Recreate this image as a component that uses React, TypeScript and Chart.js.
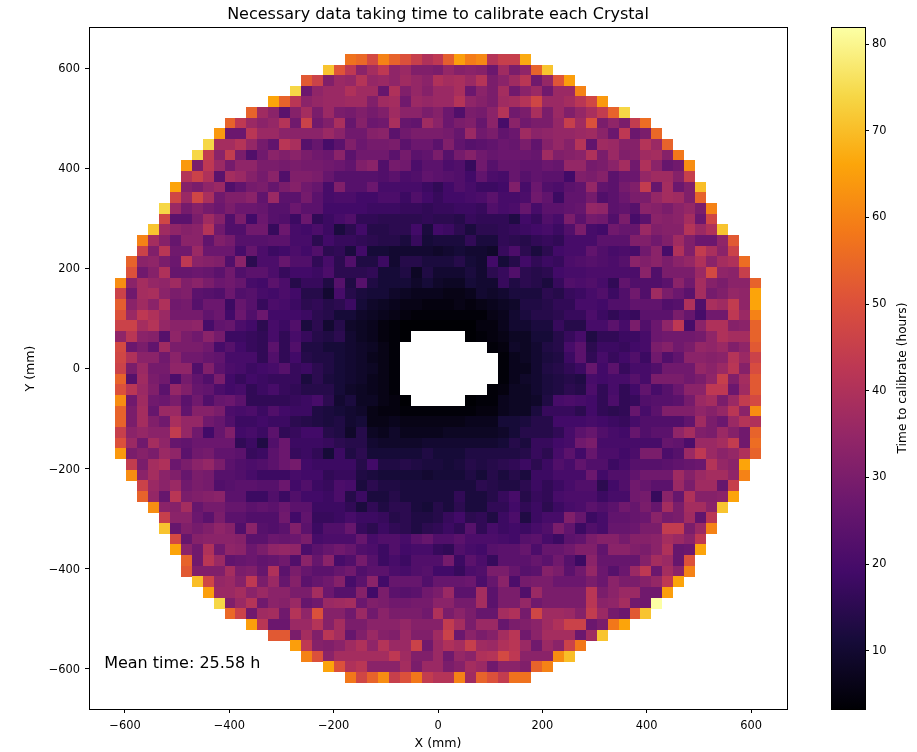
import React, { useEffect, useRef } from "react";
import { Chart, registerables } from "chart.js";

Chart.register(...registerables);

const _ = null;
const FONT = "'DejaVu Sans', sans-serif";
const TEXT = "#000000";

const titleText = "Necessary data taking time to calibrate each Crystal";
const meanText = "Mean time: 25.58 h";
const xLabel = "X (mm)";
const yLabel = "Y (mm)";
const barLabel = "Time to calibrate (hours)";

const COLOR_MIN = 3.3;
const COLOR_MAX = 81.85;
const PITCH_X_MM = 20.98;
const PITCH_Y_MM = 21.29;
const CENTER_INDEX = 29;

const positionTicks = [-600, -400, -200, 0, 200, 400, 600];
const barTicks = [10, 20, 30, 40, 50, 60, 70, 80];

const inferno = ["#000004", "#160b39", "#420a68", "#6a176e", "#932667", "#bc3754", "#dd513a", "#f37819", "#fca50a", "#f6d746", "#fcffa4"];

// First occupied column of every row, top row first.
const rowStart = [21, 19, 17, 16, 14, 12, 10, 9, 8, 7, 6, 6, 5, 5, 4, 4, 3, 2, 2, 1, 1, 0, 0, 0, 0, 0, 0, 0, 0, 0, 0, 0, 0, 0, 0, 0, 0, 0, 1, 1, 2, 2, 3, 4, 4, 5, 5, 6, 6, 7, 8, 9, 10, 12, 14, 16, 17, 19, 21];

// Hours per crystal, row by row from the top; null is the beam hole.
const r00 = [57,55,48,60,54,50,45,40,43,53,65,59,61,41,45,45,67];
const r01 = [71,51,43,33,38,43,34,36,31,31,30,35,32,33,32,27,37,30,34,54,71];
const r02 = [52,46,31,36,35,41,35,36,34,37,35,33,40,38,39,36,41,30,33,37,42,28,35,51,65];
const r03 = [74,27,34,36,36,40,37,37,26,40,31,35,32,36,36,39,27,33,30,38,28,33,36,28,36,36,60];
const r04 = [66,54,42,33,35,36,36,37,37,31,37,38,28,36,35,36,36,41,34,32,30,37,38,41,47,36,36,38,42,47,64];
const r05 = [54,37,33,24,32,38,30,36,30,29,31,29,31,37,33,33,30,32,27,22,30,29,33,41,28,30,39,30,36,31,35,39,44,54,74];
const r06 = [54,43,36,33,35,41,28,46,28,31,39,26,32,27,28,39,26,25,37,33,27,30,31,26,33,20,33,28,30,30,35,45,37,50,30,34,30,44,56];
const r07 = [64,27,27,42,36,36,33,33,33,33,36,33,28,28,32,33,24,28,30,30,30,29,26,36,28,30,25,27,37,33,34,35,35,36,37,33,27,43,27,30,55];
const r08 = [74,38,38,41,35,29,25,42,39,23,26,20,24,31,27,29,29,30,24,27,27,24,31,25,23,24,25,27,26,30,25,32,35,32,41,25,37,36,32,32,41,36,54];
const r09 = [74,44,33,44,30,22,28,33,31,33,30,28,27,33,24,28,28,28,24,29,24,25,30,23,29,32,28,26,27,27,27,26,37,31,32,33,40,30,36,31,32,37,38,32,58];
const r10 = [64,30,43,36,29,34,34,30,30,29,30,29,29,28,27,25,31,33,22,29,28,21,24,24,21,22,17,28,23,26,26,25,25,27,26,35,35,29,30,33,38,28,40,33,26,28,62];
const r11 = [41,46,40,24,38,36,32,29,33,22,31,31,30,26,23,23,23,23,22,24,21,22,25,24,23,22,19,25,21,20,26,23,25,24,24,19,31,30,32,24,27,27,35,37,37,32,45];
const r12 = [66,32,30,34,36,22,25,29,30,26,30,32,28,26,20,31,23,23,27,20,20,20,20,18,16,19,22,20,18,18,19,31,20,27,22,21,24,25,35,25,24,29,31,44,26,38,27,31,70];
const r13 = [47,36,47,39,28,31,31,33,25,36,24,24,29,24,20,21,21,19,19,21,21,18,22,19,17,19,19,20,21,24,20,20,21,28,25,18,25,25,29,22,24,27,30,30,35,38,37,31,54];
const r14 = [74,36,29,32,29,27,30,27,27,26,23,23,27,24,24,19,19,19,19,18,18,18,17,17,16,17,17,18,18,17,22,20,21,26,20,24,24,25,26,35,34,24,25,23,33,32,30,33,35,30,60];
const r15 = [47,24,24,30,37,32,22,30,19,27,23,22,18,27,16,18,20,22,16,16,15,15,15,15,16,15,15,14,17,16,16,16,13,19,17,22,20,30,24,29,28,22,30,20,24,33,32,33,38,27,47];
const r16 = [71,37,34,32,33,41,28,22,22,28,28,17,27,20,19,21,18,12,15,19,14,14,15,15,19,12,19,18,15,12,15,15,16,17,18,19,20,18,22,30,20,19,28,26,26,36,31,32,32,41,36,40,71];
const r17 = [60,38,32,26,33,33,25,31,29,23,23,23,24,24,20,20,15,19,17,17,16,15,14,14,12,17,11,12,12,12,16,12,12,16,15,14,16,17,16,20,20,20,24,24,24,31,31,28,31,37,31,27,27,34,52];
const r18 = [46,31,42,28,28,36,27,27,27,20,26,21,18,19,21,19,22,15,16,12,19,11,11,10,10,10,10,9,10,11,10,10,9,17,21,15,12,15,19,20,20,25,22,20,21,20,28,33,20,40,31,44,39,33,46];
const r19 = [54,33,34,30,27,43,33,32,31,22,33,15,21,21,26,22,22,16,20,15,22,13,13,18,10,14,14,12,12,12,14,11,10,19,11,14,19,16,18,17,21,22,23,22,21,23,33,31,33,30,33,35,40,33,38,40,56];
const r20 = [50,28,32,40,26,26,27,26,24,28,22,24,24,21,17,19,19,18,21,15,15,15,16,11,11,13,8,13,10,10,10,12,10,15,17,22,15,14,15,19,20,20,21,21,21,21,21,33,22,30,30,30,36,48,34,33,45];
const r21 = [62,33,38,35,34,37,31,33,30,27,28,26,20,19,24,21,14,17,17,13,23,13,23,13,11,11,11,9,11,9,8,8,11,10,10,17,13,15,14,12,17,22,21,22,20,16,25,22,22,22,24,33,28,38,32,30,33,33,54];
const r22 = [46,28,38,39,33,30,31,24,23,22,27,22,23,20,19,21,19,14,14,10,20,14,12,11,11,9,8,7,7,7,6,6,7,10,9,10,12,12,12,15,14,17,18,20,22,18,22,28,22,37,30,27,24,38,29,31,35,34,66];
const r23 = [53,33,37,33,40,28,29,23,27,27,18,26,23,17,21,20,18,15,16,14,15,18,11,9,8,7,6,6,5,5,5,6,5,6,7,8,9,13,13,14,16,16,20,20,19,22,22,25,25,25,22,23,40,22,39,37,44,34,66];
const r24 = [50,36,43,40,36,29,29,29,25,27,19,27,22,27,19,19,19,18,15,14,11,11,9,8,7,6,5,4,4,4,4,4,4,4,6,7,10,12,14,14,15,17,17,21,18,16,18,17,24,24,24,30,26,20,28,28,43,36,60];
const r25 = [46,46,38,41,35,33,33,34,20,25,26,21,19,15,20,18,22,12,15,10,14,9,8,7,5,4,3,3,3,3,3,3,3,5,5,7,10,10,12,12,17,14,14,20,20,24,20,30,22,27,34,43,20,33,40,40,32,33,54];
const r26 = [34,42,33,32,23,34,30,28,33,29,18,18,17,16,20,16,20,17,14,13,15,10,8,7,5,4,3,_,_,_,_,_,3,4,5,6,8,8,11,11,14,17,20,13,16,16,18,18,20,27,28,28,28,29,34,40,38,38,54];
const r27 = [48,27,30,25,37,30,30,30,28,20,23,19,17,16,24,16,22,13,13,11,11,10,9,8,6,4,_,_,_,_,_,_,_,_,4,5,9,8,10,13,14,20,24,15,18,18,17,19,20,30,32,28,30,35,34,36,31,34,52];
const r28 = [47,40,33,33,28,33,28,28,26,25,20,20,20,16,22,16,19,14,13,13,11,10,9,7,6,4,_,_,_,_,_,_,_,_,_,4,7,8,10,12,13,18,24,16,20,17,19,22,18,28,22,25,33,33,32,33,41,36,46];
const r29 = [46,30,36,29,29,34,34,22,31,24,21,20,18,19,20,23,17,18,15,13,11,10,9,8,6,4,_,_,_,_,_,_,_,_,_,4,7,7,10,13,14,16,18,26,19,24,17,20,20,22,28,28,28,35,33,36,42,32,49];
const r30 = [54,23,37,30,28,21,29,25,22,30,19,17,19,18,17,17,17,12,15,12,11,10,9,7,6,4,_,_,_,_,_,_,_,_,_,4,7,9,10,12,13,14,13,20,19,20,20,23,20,30,30,30,28,30,34,45,31,38,52];
const r31 = [50,42,36,31,24,35,31,26,25,21,19,20,16,18,20,17,16,14,14,14,11,9,8,7,6,4,_,_,_,_,_,_,_,_,4,5,8,8,10,12,13,15,14,21,16,20,16,19,25,20,23,27,33,33,43,43,27,37,52];
const r32 = [62,28,37,28,27,30,24,28,22,26,27,24,16,16,16,16,17,18,20,15,10,12,8,8,6,5,3,_,_,_,_,_,3,4,4,7,8,8,9,13,20,21,20,19,16,21,16,17,22,23,23,24,29,36,38,30,36,44,48];
const r33 = [54,30,38,26,36,36,25,32,32,30,21,20,21,18,22,19,18,18,13,12,11,10,9,6,5,5,4,4,4,4,4,4,4,5,5,7,8,8,12,17,17,17,15,19,16,15,16,26,20,24,31,31,31,34,32,35,42,33,62];
const r34 = [54,30,38,31,28,39,35,35,28,26,22,18,18,19,18,18,15,14,13,12,13,10,11,6,6,7,6,6,6,6,6,6,7,7,7,11,11,12,14,14,19,19,19,20,19,18,17,20,22,22,22,22,25,37,30,27,36,41,40];
const r35 = [45,33,35,33,33,44,35,28,19,26,31,19,20,18,24,16,17,19,19,14,13,9,14,8,7,9,7,7,7,7,8,8,8,8,8,9,11,14,14,14,16,20,24,26,22,20,19,26,22,24,24,34,38,31,30,36,32,28,54];
const r36 = [50,36,28,38,34,26,25,27,27,27,27,16,18,13,22,27,18,18,18,17,15,14,14,10,9,9,9,9,10,10,10,10,10,10,10,11,14,12,17,17,19,20,28,30,20,20,20,20,20,20,26,25,21,36,36,38,44,28,56];
const r37 = [64,30,32,30,36,34,24,28,29,25,25,24,17,18,24,27,17,18,16,11,18,13,15,11,11,11,11,11,13,11,11,11,13,13,13,13,13,14,17,15,20,24,19,26,21,21,19,21,30,30,21,23,36,43,36,33,35,40,54];
const r38 = [44,30,38,40,27,30,33,35,30,24,22,21,22,24,27,29,19,18,18,18,18,14,19,13,13,14,13,12,12,11,12,14,13,14,15,16,18,15,18,22,20,25,22,22,18,20,23,23,23,24,25,26,27,41,35,33,66];
const r39 = [62,33,38,33,31,26,30,29,23,23,22,20,18,18,18,20,19,19,16,17,17,13,12,11,11,11,11,10,11,11,11,13,11,14,12,14,12,18,18,20,20,20,27,19,22,22,25,28,28,28,37,32,36,38,38,34,60];
const r40 = [46,36,33,36,28,30,29,22,23,24,24,23,23,27,19,22,18,17,21,20,12,15,13,13,12,12,12,12,12,12,12,15,14,13,13,15,18,16,18,20,22,22,15,19,22,28,26,24,24,36,30,37,37,26,45];
const r41 = [54,35,26,42,30,31,32,33,24,24,18,18,22,18,22,19,19,18,21,14,18,12,12,14,12,12,12,12,12,16,12,12,14,17,20,14,17,16,20,21,21,21,18,20,20,28,29,17,33,26,40,32,32,33,66];
const r42 = [62,33,32,38,26,29,29,26,26,24,25,24,27,24,24,18,18,18,16,12,16,13,15,15,12,11,14,12,15,12,12,16,16,19,16,18,15,18,20,21,24,22,24,28,26,30,26,38,30,38,38,33,71];
const r43 = [45,33,33,27,24,30,24,24,22,22,22,28,19,25,17,17,18,20,18,18,17,14,15,13,13,14,17,19,15,16,13,18,21,13,18,20,20,31,26,18,20,25,25,26,27,33,29,30,37,25,42];
const r44 = [71,26,31,29,31,34,32,22,33,23,22,24,31,24,18,22,22,26,17,15,18,16,15,13,15,16,18,16,23,16,20,18,19,18,20,22,30,25,18,22,20,26,26,27,30,30,44,44,30,36,60];
const r45 = [48,26,32,33,33,33,32,24,24,27,26,27,30,20,21,21,21,26,20,22,22,20,24,26,22,22,24,21,21,21,20,19,23,24,20,18,24,25,30,32,32,29,32,32,33,38,36,33,43];
const r46 = [66,33,28,40,28,34,33,27,30,34,35,34,21,24,26,28,26,22,21,18,22,19,20,20,17,16,22,20,19,23,24,24,26,21,26,26,28,31,31,25,33,33,31,30,33,40,26,27,66];
const r47 = [54,28,42,36,25,26,27,25,26,28,22,33,26,33,20,22,29,23,18,20,18,22,22,22,29,18,24,21,17,24,24,24,26,24,28,23,18,33,26,26,26,26,32,38,36,26,50];
const r48 = [52,31,31,31,38,30,31,26,40,24,30,26,24,24,26,28,22,24,24,21,20,22,23,19,19,17,21,22,30,30,26,23,24,32,30,24,28,35,27,23,27,36,43,27,38,33,60];
const r49 = [70,47,35,36,32,43,30,36,26,32,24,26,28,32,20,24,33,19,26,26,26,22,26,26,26,27,21,26,33,21,29,30,30,27,27,27,30,27,33,30,30,32,35,43,66];
const r50 = [65,36,36,38,33,36,33,33,30,30,38,27,23,23,32,19,30,24,23,24,28,30,36,24,24,38,24,30,30,22,36,30,30,30,30,42,30,33,36,36,28,28,65];
const r51 = [74,31,36,41,28,33,32,36,26,28,36,37,38,27,31,30,28,28,29,29,33,33,29,29,38,24,30,30,35,28,30,30,30,30,42,33,34,38,28,28,82];
const r52 = [55,46,28,37,38,28,41,34,50,32,32,28,36,28,33,30,30,30,28,40,30,33,30,26,26,38,40,29,47,37,37,36,32,44,36,29,27,52,71];
const r53 = [65,42,27,27,36,36,41,32,38,30,30,33,33,33,35,32,32,32,44,38,30,36,36,26,30,31,33,37,40,46,46,27,30,58,66];
const r54 = [52,52,30,38,31,42,38,26,31,36,32,31,36,31,31,37,46,27,33,30,32,38,42,28,33,38,38,38,27,37,71];
const r55 = [65,43,32,31,33,37,40,34,41,36,36,46,28,36,40,38,45,37,36,40,42,36,28,36,33,46,58];
const r56 = [60,50,33,38,38,38,38,38,43,37,31,31,36,28,35,33,40,41,48,43,33,33,33,62,70];
const r57 = [66,50,40,42,33,33,33,38,30,36,36,30,32,38,36,28,33,33,31,54,60];
const r58 = [58,47,54,62,45,50,58,44,41,41,60,37,54,50,44,57,57];

const hoursByRow = [r00,r01,r02,r03,r04,r05,r06,r07,r08,r09,r10,r11,r12,r13,r14,r15,r16,r17,r18,r19,r20,r21,r22,r23,r24,r25,r26,r27,r28,r29,r30,r31,r32,r33,r34,r35,r36,r37,r38,r39,r40,r41,r42,r43,r44,r45,r46,r47,r48,r49,r50,r51,r52,r53,r54,r55,r56,r57,r58];

type Cell = { x: number; y: number; v: number };

const cells: Cell[] = [];
hoursByRow.forEach((row: (number | null)[], j: number) => {
  row.forEach((v, k) => {
    if (v === null) return;
    cells.push({
      x: (rowStart[j] + k - CENTER_INDEX) * PITCH_X_MM,
      y: (CENTER_INDEX - j) * PITCH_Y_MM,
      v,
    });
  });
});

function hexToRgb(h: string) {
  return [1, 3, 5].map((i) => parseInt(h.slice(i, i + 2), 16));
}

function infernoColor(v: number) {
  const t = Math.min(1, Math.max(0, (v - COLOR_MIN) / (COLOR_MAX - COLOR_MIN))) * (inferno.length - 1);
  const lo = Math.min(inferno.length - 2, Math.floor(t));
  const f = t - lo;
  const a = hexToRgb(inferno[lo]);
  const b = hexToRgb(inferno[lo + 1]);
  return `rgb(${a.map((c, i) => Math.round(c + (b[i] - c) * f)).join(",")})`;
}

const tileCache = new Map<number, HTMLCanvasElement>();
function cellTile(v: number) {
  let tile = tileCache.get(v);
  if (!tile) {
    tile = document.createElement("canvas");
    tile.width = 11;
    tile.height = 11;
    const c = tile.getContext("2d")!;
    c.fillStyle = infernoColor(v);
    c.fillRect(0, 0, 11, 11);
    tileCache.set(v, tile);
  }
  return tile;
}

const frame = {
  id: "frame",
  afterDatasetsDraw(chart: any) {
    const { ctx, chartArea: a } = chart;
    ctx.save();
    ctx.strokeStyle = "#000";
    ctx.lineWidth = 1;
    ctx.strokeRect(Math.round(a.left) + 0.5, Math.round(a.top) - 0.5, Math.round(a.right - a.left), Math.round(a.bottom - a.top) + 1);
    ctx.restore();
  },
};

const meanNote = {
  id: "meanNote",
  afterDatasetsDraw(chart: any) {
    const { ctx, scales } = chart;
    ctx.save();
    ctx.fillStyle = TEXT;
    ctx.font = `16px ${FONT}`;
    ctx.textBaseline = "middle";
    ctx.fillText(meanText, scales.x.getPixelForValue(-640), scales.y.getPixelForValue(-589));
    ctx.restore();
  },
};

const barTitle = {
  id: "barTitle",
  afterDraw(chart: any) {
    const { ctx } = chart;
    ctx.save();
    ctx.translate(72, 378);
    ctx.rotate(-Math.PI / 2);
    ctx.fillStyle = TEXT;
    ctx.font = `12.2px ${FONT}`;
    ctx.textAlign = "center";
    ctx.textBaseline = "middle";
    ctx.fillText(barLabel, 0, 0);
    ctx.restore();
  },
};

const minus = (v: number | string) => String(v).replace("-", "\u2212");
const tickFont = { family: FONT, size: 11.4 };
const axisFont = { family: FONT, size: 12.6 };

export default function App() {
  const mainRef = useRef<HTMLCanvasElement>(null);
  const barRef = useRef<HTMLCanvasElement>(null);

  useEffect(() => {
    const main = new Chart(mainRef.current!, {
      type: "scatter",
      data: {
        datasets: [
          {
            data: cells,
            pointRadius: 5,
            pointHoverRadius: 5,
            pointStyle: (ctx: any) => (ctx.raw ? cellTile(ctx.raw.v) : "circle"),
          } as any,
        ],
      },
      options: {
        responsive: false,
        animation: false,
        events: [],
        layout: { padding: { right: 130, top: 0, left: 0, bottom: 0 } },
        plugins: {
          legend: { display: false },
          tooltip: { enabled: false },
          title: {
            display: true,
            text: titleText,
            color: TEXT,
            fullSize: false,
            font: { family: FONT, size: 16, weight: "normal", lineHeight: 1.2 },
            padding: { top: 5, bottom: 3.8 },
          },
        },
        scales: {
          x: {
            type: "linear",
            min: -669,
            max: 669,
            title: { display: true, text: xLabel, color: TEXT, font: axisFont, padding: { bottom: 1, top: 0 } },
            ticks: { autoSkip: false, maxRotation: 0, color: TEXT, font: tickFont, padding: 6, callback: minus },
            afterBuildTicks: (s: any) => { s.ticks = positionTicks.map((value) => ({ value })); },
            grid: { drawOnChartArea: false, drawTicks: true, tickLength: 4, color: "#000" },
            border: { color: "#000" },
            afterFit: (s: any) => { s.height = 43; },
          },
          y: {
            type: "linear",
            min: -680,
            max: 680,
            title: { display: true, text: yLabel, color: TEXT, font: axisFont, padding: { top: 23, bottom: 0 } },
            ticks: { autoSkip: false, color: TEXT, font: tickFont, padding: 5, labelOffset: 1, callback: minus },
            afterBuildTicks: (s: any) => { s.ticks = positionTicks.map((value) => ({ value })); },
            grid: { drawOnChartArea: false, drawTicks: true, tickLength: 4, color: "#000" },
            border: { color: "#000" },
            afterFit: (s: any) => { s.width = 89; },
          },
        },
      } as any,
      plugins: [frame, meanNote],
    });

    const bar = new Chart(barRef.current!, {
      type: "bar",
      data: {
        labels: ["hours"],
        datasets: [
          {
            data: [[COLOR_MIN, COLOR_MAX]],
            barPercentage: 1,
            categoryPercentage: 1,
            borderWidth: 0,
            backgroundColor: (ctx: any) => {
              const a = ctx.chart.chartArea;
              if (!a) return "#000";
              const g = ctx.chart.ctx.createLinearGradient(0, a.bottom, 0, a.top);
              inferno.forEach((c, i) => g.addColorStop(i / (inferno.length - 1), c));
              return g;
            },
          } as any,
        ],
      },
      options: {
        responsive: false,
        animation: false,
        events: [],
        layout: { padding: { top: 28, bottom: 43, left: 0, right: 0 } },
        plugins: { legend: { display: false }, tooltip: { enabled: false } },
        scales: {
          x: { display: false },
          y: {
            position: "right",
            min: COLOR_MIN,
            max: COLOR_MAX,
            ticks: { autoSkip: false, color: TEXT, font: tickFont, padding: 3 },
            afterBuildTicks: (s: any) => { s.ticks = barTicks.map((value) => ({ value })); },
            grid: { drawOnChartArea: false, drawTicks: true, tickLength: 4, color: "#000" },
            border: { color: "#000" },
            afterFit: (s: any) => { s.width = 52; },
          },
        },
      } as any,
      plugins: [frame, barTitle],
    });

    return () => {
      main.destroy();
      bar.destroy();
    };
  }, []);

  return (
    <div style={{ position: "absolute", left: 0, top: 0, width: 917, height: 752, background: "#fff", overflow: "hidden" }}>
      <canvas ref={mainRef} width={917} height={752} style={{ position: "absolute", left: 0, top: 0 }} />
      <canvas ref={barRef} width={86} height={752} style={{ position: "absolute", left: 831, top: 0 }} />
    </div>
  );
}
